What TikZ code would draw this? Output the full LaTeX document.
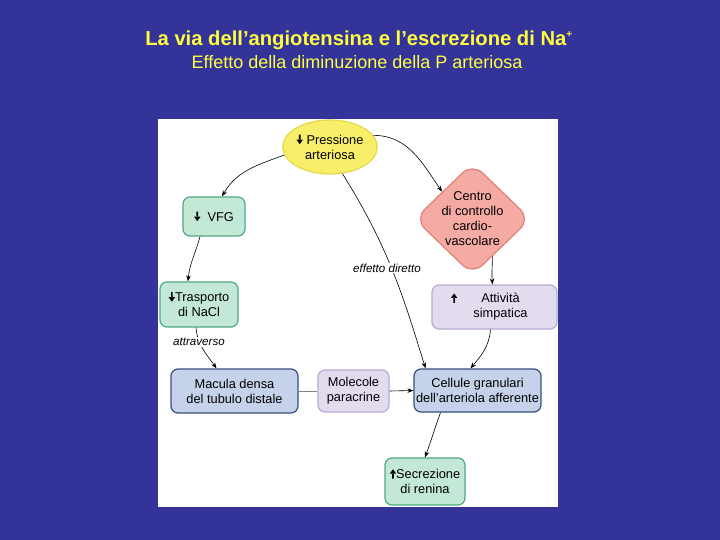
\documentclass[tikz,border=0pt]{standalone}
\usepackage{fontspec}
\setmainfont{Liberation Sans}
\usetikzlibrary{shapes.geometric, arrows.meta}
\definecolor{slidebg}{HTML}{333399}
\definecolor{titleyel}{HTML}{FFFF40}
\definecolor{pafill}{HTML}{F7EE6A}
\definecolor{padraw}{HTML}{E6D84C}
\definecolor{grfill}{HTML}{C4E8D6}
\definecolor{grdraw}{HTML}{4FA887}
\definecolor{rdfill}{HTML}{F5AAA3}
\definecolor{rddraw}{HTML}{E27F7A}
\definecolor{lvfill}{HTML}{E3DCEF}
\definecolor{lvdraw}{HTML}{B9A8D3}
\definecolor{blfill}{HTML}{C5D2EA}
\definecolor{bldraw}{HTML}{3A4F7C}
% small filled arrows used in the node texts
\newcommand{\dn}{\tikz[baseline=0pt, x=1pt, y=1pt, sharp corners]
  \fill[black] (-0.8,9.5) rectangle (0.8,4) (-3.2,4.5) -- (3.2,4.5) -- (0,0) -- cycle;}
\newcommand{\upa}{\tikz[baseline=0pt, x=1pt, y=1pt, sharp corners]
  \fill[black] (-0.8,0) rectangle (0.8,5.5) (-3.2,5) -- (3.2,5) -- (0,9.5) -- cycle;}
\tikzset{
  box/.style={rectangle, rounded corners=7pt, line width=1.2pt, align=center,
    font=\fontsize{12.8}{15}\selectfont, inner sep=0pt},
  greenbox/.style={box, fill=grfill, draw=grdraw},
  lavbox/.style={box, fill=lvfill, draw=lvdraw},
  bluebox/.style={box, fill=blfill, draw=bldraw},
  lab/.style={font=\itshape\fontsize{11.6}{13}\selectfont, fill=white, inner sep=1pt},
  conn/.style={-{Stealth[length=6pt, width=4.5pt]}, line width=0.6pt}
}
\begin{document}
\begin{tikzpicture}[x=1pt,y=1pt]
\fill[slidebg] (0,0) rectangle (720,-540);
\useasboundingbox (0,0) rectangle (720,-540);
% titles
\node[titleyel, font=\bfseries\fontsize{20.2}{22}\selectfont] (title) at (359,-40)
  {La via dell’angiotensina e l’escrezione di Na\textsuperscript{\fontsize{10}{10}\selectfont +}};
\node[titleyel, font=\fontsize{18}{20}\selectfont] (subtitle) at (357,-62)
  {Effetto della diminuzione della P arteriosa};
% panel
\fill[white] (158,-119) rectangle (558,-507);
% nodes
\node[ellipse, fill=pafill, draw=padraw, line width=1.2pt, minimum width=84pt,
  minimum height=54pt, inner sep=0pt, align=center,
  font=\fontsize{12.8}{15}\selectfont] (pa) at (330,-147) {\dn\ Pressione\\arteriosa};
\node[greenbox, minimum width=62pt, minimum height=39pt] (vfg) at (214,-216.5) {\dn\ \ VFG};
\node[diamond, fill=rdfill, draw=rddraw, line width=1.2pt, rounded corners=14pt,
  minimum width=116pt, minimum height=112pt, inner sep=0pt] (ctrl) at (472.5,-219) {};
\node[align=center, font=\fontsize{12.8}{15}\selectfont] (ctrltxt) at (ctrl.center)
  {Centro\\di controllo\\cardio-\\vascolare};
\node[greenbox, minimum width=78pt, minimum height=45pt] (nacl) at (199,-304.5) {\dn Trasporto\\di NaCl};
\node[lavbox, minimum width=125pt, minimum height=44pt] (att) at (494.5,-307)
  {\hspace*{12pt}\llap{\upa\hspace{24pt}}Attività\\\hspace*{12pt}simpatica};
\node[bluebox, minimum width=127pt, minimum height=44pt] (mac) at (234.5,-391) {Macula densa\\del tubulo distale};
\node[lavbox, minimum width=71pt, minimum height=42pt] (mol) at (353.5,-391) {Molecole\\paracrine};
\node[bluebox, minimum width=127pt, minimum height=43pt] (cell) at (477.5,-390.5) {Cellule granulari\\dell'arteriola afferente};
\node[greenbox, minimum width=80pt, minimum height=47pt] (ren) at (425,-481.5) {\upa Secrezione\\di renina};
% connectors
\draw[conn] (pa.190) to[out=200, in=60] ([xshift=8pt]vfg.north);
\draw[conn] (pa.15) to[out=0, in=125] (ctrl.138);
\draw[conn] (pa.-65) to[out=-58, in=107] ([xshift=-52pt]cell.north);
\draw[conn] ([xshift=-14pt]vfg.south) to[out=-105, in=85] ([xshift=-11pt]nacl.north);
\draw[conn] ([xshift=-3pt]nacl.south) to[out=-85, in=125] ([xshift=-18pt]mac.north);
\draw[conn] (ctrl.-62) to[out=-90, in=95] ([xshift=-2pt]att.north);
\draw[conn] ([xshift=-4pt]att.south) to[out=-95, in=50] ([xshift=-7pt]cell.north);
\draw[line width=0.6pt, gray] (mac.east) -- (mol.west);
\draw[conn] (mol.east) -- (cell.west);
\draw[conn] ([xshift=-37pt]cell.south) to[out=-110, in=70] (ren.north);
% labels
\node[lab] (dirlab) at (387,-268) {effetto diretto};
\node[lab] (attlab) at (199,-342) {attraverso};
\end{tikzpicture}
\end{document}
